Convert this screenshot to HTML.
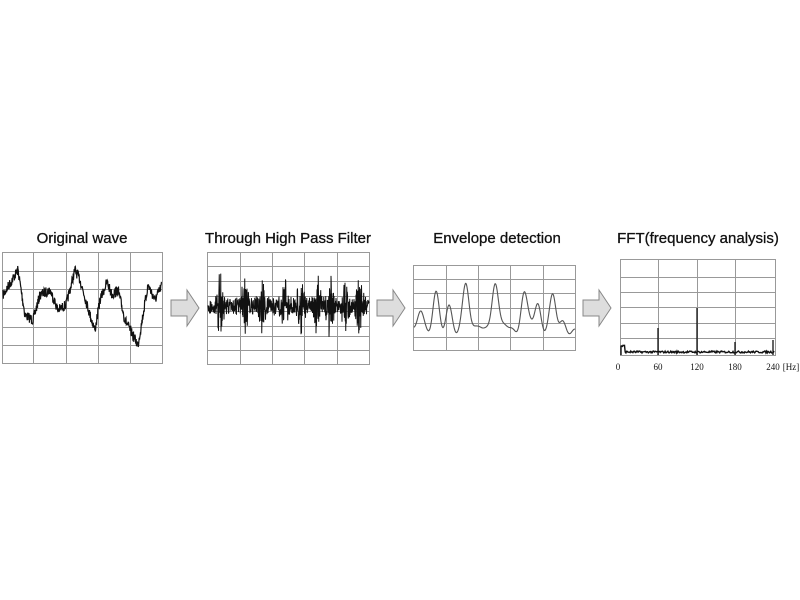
<!DOCTYPE html>
<html><head><meta charset="utf-8"><style>
body{margin:0;background:#fff;width:800px;height:600px;overflow:hidden;font-family:"Liberation Sans",sans-serif}
svg{position:absolute;left:0;top:0}
</style></head><body>
<svg id="s" width="800" height="600" xmlns="http://www.w3.org/2000/svg">
<g font-family="Liberation Sans, sans-serif" font-size="15" fill="#111" text-anchor="middle" stroke="#111" stroke-width="0.3">
<text x="82" y="243">Original wave</text>
<text x="288" y="243">Through High Pass Filter</text>
<text x="497" y="243">Envelope detection</text>
<text x="698" y="243">FFT(frequency analysis)</text>
</g>
<g font-family="Liberation Serif, serif" font-size="9" fill="#111" text-anchor="middle">
<text x="618" y="370">0</text><text x="658" y="370">60</text><text x="697" y="370">120</text><text x="735" y="370">180</text><text x="773" y="370">240</text><text x="791" y="370">[Hz]</text>
</g>
<g fill="#ddd" stroke="#888" stroke-width="1">
<polygon points="171,300 187,300 187,290 199,308 187,326 187,316 171,316"/>
<polygon points="377,300 393,300 393,290 405,308 393,326 393,316 377,316"/>
<polygon points="583,300 599,300 599,290 611,308 599,326 599,316 583,316"/>
</g>
<g id="g" stroke="#999" stroke-width="1" fill="none"></g>
<g id="w" fill="none"></g>
</svg>
<script>
var g=document.getElementById('g'),w=document.getElementById('w');
function L(x1,y1,x2,y2){g.innerHTML+='<line x1="'+x1+'" y1="'+y1+'" x2="'+x2+'" y2="'+y2+'"/>';}
function grid(x0,y0,x1,y1,vx,hy){g.innerHTML+='<rect x="'+x0+'" y="'+y0+'" width="'+(x1-x0)+'" height="'+(y1-y0)+'"/>';vx.forEach(function(x){L(x,y0,x,y1)});hy.forEach(function(y){L(x0,y,x1,y)});}
grid(2.5,252.5,162.5,363.5,[33.5,66.5,98.5,130.5],[271.5,289.5,308.5,327.5,345.5]);
grid(207.5,252.5,369.5,364.5,[240.5,272.5,304.5,337.5],[266.5,281.5,296.5,311.5,326.5,336.5,350.5]);
grid(413.5,265.5,575.5,350.5,[446.5,478.5,510.5,543.5],[279.5,293.5,308.5,323.5,337.5]);
grid(620.5,259.5,775.5,355.5,[658.5,697.5,735.5],[277.5,292.5,307.5,323.5,338.5]);
var seed=7;function r(){seed=(seed*16807)%2147483647;return seed/2147483647;}
var key=[[3,295],[18,270],[25,315],[33,320],[40,295],[50,290],[58,310],[66,305],[75,270],[80,280],[90,315],[95,330],[100,300],[107,282],[112,295],[118,290],[125,320],[138,345],[148,285],[155,300],[162,285]];
function interp(x){for(var i=0;i<key.length-1;i++){if(x>=key[i][0]&&x<=key[i+1][0]){var t=(x-key[i][0])/(key[i+1][0]-key[i][0]);return key[i][1]+t*(key[i+1][1]-key[i][1]);}}return 290;}
var d='';for(var x=3;x<=162;x+=0.3){d+=(x==3?'M':'L')+x.toFixed(1)+','+(interp(x)+(r()-0.5)*10).toFixed(1);}
w.innerHTML+='<path d="'+d+'" stroke="#111" stroke-width="1.2"/>';
d='';var bursts=[220,245,262,285,300,318,330,345,360];
for(var x=208;x<=369;x+=0.25){var a=11;bursts.forEach(function(b){a+=28*Math.exp(-Math.pow((x-b)/3,2));});var y=306+(r()-0.5)*2*a*(0.4+r()*0.6);d+=(x==208?'M':'L')+x.toFixed(2)+','+y.toFixed(1);}
w.innerHTML+='<path d="'+d+'" stroke="#111" stroke-width="1"/>';
var pk=[[420,22],[436,38],[449,24],[466,50],[480,8],[495,50],[505,10],[524,35],[530,12],[538,25],[553,38],[563,8]];
d='';for(var x=414;x<=575;x+=0.5){var y=332;pk.forEach(function(p){y-=p[1]*Math.exp(-Math.pow((x-p[0])/4.5,2));});y+=Math.sin(x*0.5)*3;d+=(x==414?'M':'L')+x+','+y.toFixed(1);}
w.innerHTML+='<path d="'+d+'" stroke="#555" stroke-width="1.1"/>';
d='M621,355';for(var x=621;x<=775;x+=0.7){var y=353-r()*2;if(x<625)y-=6;d+='L'+x.toFixed(1)+','+y.toFixed(1);}
w.innerHTML+='<path d="'+d+'" stroke="#111" stroke-width="1.4"/>';
[[658,328],[697,308],[735,342],[773,340]].forEach(function(p){w.innerHTML+='<line x1="'+p[0]+'" y1="355" x2="'+p[0]+'" y2="'+p[1]+'" stroke="#111" stroke-width="1.3"/>';});
</script>
</body></html>
